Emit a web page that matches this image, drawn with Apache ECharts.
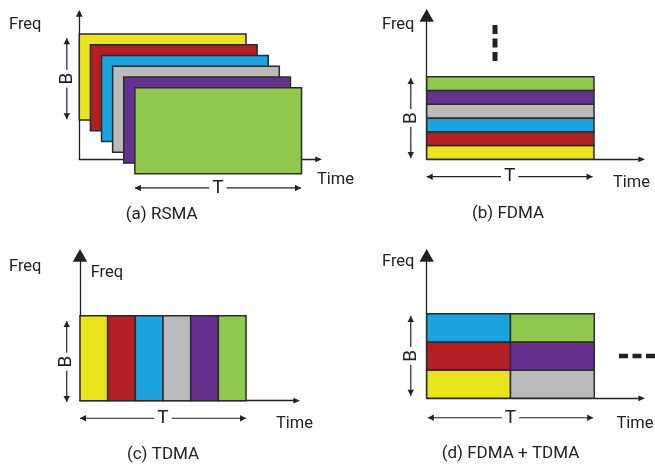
<!DOCTYPE html>
<html>
<head>
<meta charset="utf-8">
<script src="https://cdn.jsdelivr.net/npm/echarts@6/dist/echarts.min.js"></script>
<style>
html,body{margin:0;padding:0;background:#fff;}
#chart{width:655px;height:465px;}
</style>
</head>
<body>
<div id="chart"></div>
<script>
// ---------------- DATA ----------------
const palette = {yellow:'#E8E51C', red:'#B21F25', blue:'#1AA3DC', gray:'#BABABA', purple:'#66308F', green:'#8FC74F'};
const users = ['yellow', 'red', 'blue', 'gray', 'purple', 'green'];

// (a) RSMA: every user uses the whole band B for the whole time T (drawn as layered sheets)
const rsmaTimeStart = [0, 0.4, 0.8, 1.2, 1.6, 2.0];
const rsmaFreqStart = [2.75, 2.0, 1.25, 0.5, -0.25, -1.0];
const rsmaDuration = 6;
const rsmaBandwidth = 6;

// (b) FDMA: each user gets one frequency slot for the whole time T
const fdmaFreqSlot = [0, 1, 2, 3, 4, 5];
const fdmaSlotHeight = 1;
const fdmaDuration = 6;

// (c) TDMA: each user gets one time slot using the whole band B
const tdmaTimeSlot = [0, 1, 2, 3, 4, 5];
const tdmaSlotWidth = 1;
const tdmaBandwidth = 6;

// (d) FDMA + TDMA: time slot / frequency slot per user
const hybridTimeSlot = [0, 0, 0, 1, 1, 1];
const hybridFreqSlot = [0, 1, 2, 0, 1, 2];
const hybridSlotWidth = 3;
const hybridSlotHeight = 2;

// B / T dimension markers [t0, f0, t1, f1]
const rsmaBMarker = [-0.45, 2.8, -0.45, 8.45];
const rsmaTMarker = [2.0, -2.0, 7.98, -2.0];
const fdmaBMarker = [-0.57, 0.1, -0.57, 5.9];
const fdmaTMarker = [0, -1.26, 5.95, -1.26];
const tdmaBMarker = [-0.48, -0.1, -0.48, 5.62];
const tdmaTMarker = [0, -1.24, 6.0, -1.24];
const hybridBMarker = [-0.57, 0.18, -0.57, 5.84];
const hybridTMarker = [0.04, -1.38, 5.96, -1.38];

// "more users" continuation marks [t0, f0, t1, f1]
const fdmaMore = [2.45, 9.75, 2.45, 7.14];
const hybridMore = [6.885, 3.0, 8.4, 3.0];

const captions = ['(a) RSMA', '(b) FDMA', '(c) TDMA', '(d) FDMA + TDMA'];

// ---------------- BUILD RECTANGLES ----------------
const rsmaRects = users.map((u, i) => [rsmaTimeStart[i], rsmaFreqStart[i], rsmaTimeStart[i] + rsmaDuration, rsmaFreqStart[i] + rsmaBandwidth, u]);
const fdmaRects = users.map((u, i) => [0, fdmaFreqSlot[i] * fdmaSlotHeight, fdmaDuration, (fdmaFreqSlot[i] + 1) * fdmaSlotHeight, u]);
const tdmaRects = users.map((u, i) => [tdmaTimeSlot[i] * tdmaSlotWidth, 0, (tdmaTimeSlot[i] + 1) * tdmaSlotWidth, tdmaBandwidth, u]);
const hybridRects = users.map((u, i) => [hybridTimeSlot[i] * hybridSlotWidth, hybridFreqSlot[i] * hybridSlotHeight, (hybridTimeSlot[i] + 1) * hybridSlotWidth, (hybridFreqSlot[i] + 1) * hybridSlotHeight, u]);

// ---------------- LAYOUT ----------------
const INK = '#222';
const layout = [
  {ox: 79.3, oy: 159.3, ux: 27.78, uy: 14.33, xLen: 239.3, yLen: 146, xSym: [5.7, 6.7], ySym: [6.7, 6.7]},
  {ox: 426.7, oy: 159.3, ux: 27.88, uy: 13.77, xLen: 215, yLen: 144, xSym: [5.7, 6.7], ySym: [14.3, 12.7]},
  {ox: 80, oy: 400.7, ux: 27.67, uy: 14.17, xLen: 216.7, yLen: 145.3, xSym: [5.7, 6.7], ySym: [14.3, 12.7]},
  {ox: 426.7, oy: 398.3, ux: 27.93, uy: 14.1, xLen: 215, yLen: 143, xSym: [5.7, 6.7], ySym: [14.3, 12.7]}
];

const grids = [], xAxes = [], yAxes = [];
layout.forEach((L, i) => {
  grids.push({left: L.ox, top: L.oy - L.yLen, width: L.xLen, height: L.yLen, show: false});
  const axisCommon = {
    type: 'value', gridIndex: i, min: 0,
    axisTick: {show: false}, axisLabel: {show: false}, splitLine: {show: false}
  };
  xAxes.push(Object.assign({}, axisCommon, {
    max: L.xLen / L.ux,
    axisLine: {show: true, onZero: false, symbol: ['none', 'triangle'], symbolSize: L.xSym, lineStyle: {color: INK, width: 1.3}}
  }));
  yAxes.push(Object.assign({}, axisCommon, {
    max: L.yLen / L.uy,
    axisLine: {show: true, onZero: false, symbol: ['none', 'triangle'], symbolSize: L.ySym, lineStyle: {color: INK, width: 1.3}}
  }));
});

function rectSeries(gi, rects) {
  return {
    type: 'custom', coordinateSystem: 'cartesian2d', xAxisIndex: gi, yAxisIndex: gi, clip: false, z: 3,
    data: rects.map(r => [r[0], r[1], r[2], r[3]]),
    encode: {x: [0, 2], y: [1, 3]},
    renderItem: function (params, api) {
      const p0 = api.coord([api.value(0), api.value(1)]);
      const p1 = api.coord([api.value(2), api.value(3)]);
      return {
        type: 'rect',
        shape: {x: Math.min(p0[0], p1[0]), y: Math.min(p0[1], p1[1]), width: Math.abs(p1[0] - p0[0]), height: Math.abs(p1[1] - p0[1])},
        style: {fill: palette[rects[params.dataIndex][4]], stroke: '#2a2a2a', lineWidth: 1.5}
      };
    }
  };
}

function head(tip, from, len, wid) {
  const dx = tip[0] - from[0], dy = tip[1] - from[1];
  const d = Math.sqrt(dx * dx + dy * dy) || 1;
  const ux = dx / d, uy = dy / d, nx = -uy, ny = ux;
  return {type: 'polygon', shape: {points: [
    [tip[0], tip[1]],
    [tip[0] - ux * len + nx * wid / 2, tip[1] - uy * len + ny * wid / 2],
    [tip[0] - ux * len - nx * wid / 2, tip[1] - uy * len - ny * wid / 2]
  ]}, style: {fill: INK}};
}

function markerSeries(gi, markers) {
  // markers: [[t0,f0,t1,f1,label,vertical]]
  return {
    type: 'custom', coordinateSystem: 'cartesian2d', xAxisIndex: gi, yAxisIndex: gi, clip: false, z: 4,
    data: markers.map(m => [m[0], m[1], m[2], m[3]]),
    encode: {x: [0, 2], y: [1, 3]},
    renderItem: function (params, api) {
      const m = markers[params.dataIndex];
      const a = api.coord([api.value(0), api.value(1)]);
      const b = api.coord([api.value(2), api.value(3)]);
      const mid = [(a[0] + b[0]) / 2, (a[1] + b[1]) / 2];
      return {
        type: 'group',
        children: [
          {type: 'line', shape: {x1: a[0], y1: a[1], x2: b[0], y2: b[1]}, style: {stroke: INK, lineWidth: 1.2}},
          head(a, b, 6, 6.5),
          head(b, a, 6, 6.5),
          {type: 'text', x: mid[0], y: mid[1], rotation: m[5] ? Math.PI / 2 : 0,
            style: {text: m[4], font: '19px Roboto', fill: INK, align: 'center', verticalAlign: 'middle', backgroundColor: '#fff', padding: [0, 3]}}
        ]
      };
    }
  };
}

function dashSeries(gi, seg, width) {
  return {
    type: 'custom', coordinateSystem: 'cartesian2d', xAxisIndex: gi, yAxisIndex: gi, clip: false, z: 4,
    data: [seg],
    encode: {x: [0, 2], y: [1, 3]},
    renderItem: function (params, api) {
      const a = api.coord([api.value(0), api.value(1)]);
      const b = api.coord([api.value(2), api.value(3)]);
      return {type: 'line', shape: {x1: a[0], y1: a[1], x2: b[0], y2: b[1]},
        style: {stroke: INK, lineWidth: width, lineDash: [9, 4.5], lineCap: 'butt'}};
    }
  };
}

const series = [
  rectSeries(0, rsmaRects),
  rectSeries(1, fdmaRects),
  rectSeries(2, tdmaRects),
  rectSeries(3, hybridRects),
  markerSeries(0, [rsmaBMarker.concat(['B', true]), rsmaTMarker.concat(['T', false])]),
  markerSeries(1, [fdmaBMarker.concat(['B', true]), fdmaTMarker.concat(['T', false])]),
  markerSeries(2, [tdmaBMarker.concat(['B', true]), tdmaTMarker.concat(['T', false])]),
  markerSeries(3, [hybridBMarker.concat(['B', true]), hybridTMarker.concat(['T', false])]),
  dashSeries(1, fdmaMore, 5),
  dashSeries(3, hybridMore, 4.7)
];

const labelFont = '16.5px Roboto';
const capFont = '17px Roboto';
function txt(text, x, y, font, align) {
  return {type: 'text', x: x, y: y, z: 10, style: {text: text, font: font, fill: INK, align: align || 'left', verticalAlign: 'middle'}};
}
const graphic = [
  txt('Freq', 9, 25, labelFont),
  txt('Time', 317, 180, labelFont),
  txt('Freq', 382, 25, labelFont),
  txt('Time', 613, 182.5, labelFont),
  txt('Freq', 9, 267, labelFont),
  txt('Freq', 90.7, 272.8, labelFont),
  txt('Time', 276, 424, labelFont),
  txt('Freq', 382, 262, labelFont),
  txt('Time', 616.5, 424, labelFont),
  txt(captions[0], 161.7, 215, capFont, 'center'),
  txt(captions[1], 508, 213.5, capFont, 'center'),
  txt(captions[2], 163, 454.3, capFont, 'center'),
  txt(captions[3], 510.5, 454, capFont, 'center')
];

const chart = echarts.init(document.getElementById('chart'), null, {renderer: 'canvas'});
chart.setOption({
  animation: false,
  backgroundColor: '#fff',
  grid: grids,
  xAxis: xAxes,
  yAxis: yAxes,
  series: series,
  graphic: graphic
});
</script>
</body>
</html>
